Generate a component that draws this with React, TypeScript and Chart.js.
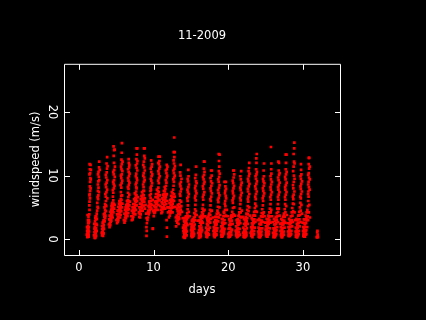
import React, { useEffect, useRef } from "react";
import { Chart, registerables } from "chart.js";

Chart.register(...registerables);

const chartTitle = "11-2009";
const xLabel = "days";
const yLabel = "windspeed (m/s)";
const xTicks = [0, 10, 20, 30];
const yTicks = [0, 10, 20];

const day01 = [[1.12,0.4],[1.15,0.9],[1.1,1.3],[1.2,0.6],[1.18,1.7],[1.25,1.0],[1.22,2.1],[1.3,0.7],[1.28,1.5],[1.3,2.5],[1.35,3.0],[1.28,3.5],[1.38,3.9],[1.33,1.9],[1.42,4.6],[1.37,2.7],[1.4,5.3],[1.42,5.9],[1.48,6.4],[1.44,7.1],[1.5,7.6],[1.47,8.3],[1.5,9.0],[1.53,9.6],[1.5,10.4],[1.47,11.0],[1.55,11.7],[1.43,11.8]];
const day02 = [[2.1,0.2],[2.14,0.7],[2.08,1.1],[2.18,0.4],[2.2,1.4],[2.12,1.9],[2.25,0.9],[2.22,2.3],[2.15,2.8],[2.3,1.7],[2.28,3.1],[2.34,2.4],[2.32,3.6],[2.38,4.0],[2.4,3.2],[2.44,4.5],[2.5,5.1],[2.46,5.7],[2.55,4.9],[2.56,6.3],[2.6,6.9],[2.55,7.6],[2.62,8.1],[2.6,9.1],[2.66,9.8],[2.62,10.6],[2.7,11.3],[2.72,12.2]];
const day03 = [[3.1,0.6],[3.14,1.1],[3.18,0.8],[3.12,1.6],[3.22,1.3],[3.2,2.0],[3.26,0.9],[3.28,1.8],[3.25,2.6],[3.32,2.2],[3.36,3.0],[3.4,3.5],[3.34,3.9],[3.46,4.1],[3.5,4.6],[3.42,5.0],[3.55,3.7],[3.58,5.3],[3.6,4.4],[3.62,6.0],[3.66,5.2],[3.6,6.7],[3.68,7.4],[3.64,8.2],[3.7,8.9],[3.66,9.7],[3.72,10.5],[3.76,11.1],[3.7,11.9],[3.78,12.9],[3.8,6.4]];
const day04 = [[4.1,1.9],[4.14,2.5],[4.2,2.2],[4.18,3.0],[4.26,2.7],[4.24,3.5],[4.3,3.2],[4.34,2.9],[4.32,3.9],[4.38,3.5],[4.42,4.3],[4.46,3.8],[4.4,4.8],[4.5,5.2],[4.54,4.5],[4.48,5.7],[4.58,5.0],[4.6,6.1],[4.55,6.7],[4.66,5.6],[4.6,7.3],[4.68,8.0],[4.65,8.7],[4.7,9.3],[4.66,10.2],[4.72,10.9],[4.7,12.0],[4.66,13.1],[4.72,14.0],[4.64,14.6],[4.78,14.1]];
const day05 = [[5.1,2.5],[5.14,3.1],[5.2,2.7],[5.22,3.5],[5.28,3.0],[5.3,4.0],[5.36,3.4],[5.34,4.6],[5.42,3.9],[5.44,4.9],[5.5,4.3],[5.48,5.3],[5.56,4.8],[5.54,5.8],[5.6,5.2],[5.6,6.3],[5.64,5.7],[5.66,6.8],[5.62,7.4],[5.7,6.2],[5.68,8.1],[5.72,8.8],[5.68,9.6],[5.74,10.2],[5.7,11.0],[5.74,11.8],[5.7,12.5],[5.73,13.6],[5.76,15.1],[5.78,6.9]];
const day06 = [[6.1,2.6],[6.16,3.4],[6.2,2.9],[6.24,3.8],[6.3,3.3],[6.32,4.2],[6.38,3.7],[6.4,4.7],[6.46,4.1],[6.44,5.2],[6.52,4.6],[6.5,5.6],[6.58,5.0],[6.56,6.1],[6.6,5.5],[6.62,6.6],[6.58,7.3],[6.66,6.0],[6.64,7.9],[6.68,8.5],[6.64,9.2],[6.7,9.9],[6.66,10.6],[6.72,11.3],[6.68,12.0],[6.66,12.6],[6.74,7.0]];
const day07 = [[7.08,3.0],[7.14,3.6],[7.2,3.1],[7.22,4.1],[7.28,3.5],[7.3,4.6],[7.36,4.0],[7.36,5.0],[7.42,4.4],[7.44,5.5],[7.5,4.9],[7.5,6.0],[7.56,5.3],[7.56,6.5],[7.62,5.8],[7.62,7.0],[7.66,6.3],[7.66,7.5],[7.7,6.9],[7.68,8.2],[7.72,8.0],[7.7,8.9],[7.74,9.6],[7.68,10.3],[7.72,11.2],[7.78,11.9],[7.7,12.6],[7.76,13.3],[7.72,14.3],[7.82,14.3]];
const day08 = [[8.08,3.5],[8.14,4.0],[8.2,3.4],[8.22,4.6],[8.28,3.9],[8.3,5.1],[8.36,4.4],[8.38,5.5],[8.44,4.9],[8.44,6.0],[8.5,5.4],[8.5,6.5],[8.56,5.9],[8.58,7.0],[8.62,6.3],[8.62,7.6],[8.68,6.9],[8.66,8.2],[8.72,7.6],[8.7,9.0],[8.74,9.7],[8.68,10.4],[8.74,11.3],[8.7,12.2],[8.76,13.1],[8.72,14.3],[8.8,14.3],[8.84,4.8]];
const day09 = [[9.05,0.5],[9.08,1.3],[9.04,1.9],[9.1,2.5],[9.06,3.3],[9.02,4.0],[9.25,3.4],[9.3,4.5],[9.36,3.9],[9.4,5.0],[9.44,4.2],[9.46,5.5],[9.52,4.6],[9.52,6.0],[9.58,5.1],[9.6,6.5],[9.64,5.5],[9.64,7.1],[9.7,6.0],[9.66,7.8],[9.72,8.4],[9.7,9.2],[9.74,9.9],[9.7,10.6],[9.74,11.4],[9.68,12.4],[9.9,1.6],[9.9,1.7]];
const day10 = [[10.02,3.6],[10.08,4.1],[10.14,4.6],[10.2,4.2],[10.22,5.1],[10.28,4.6],[10.3,5.6],[10.36,5.0],[10.38,6.0],[10.44,5.5],[10.46,6.6],[10.5,5.9],[10.52,7.1],[10.58,6.4],[10.58,7.6],[10.64,6.9],[10.64,8.1],[10.7,7.4],[10.7,8.8],[10.72,9.6],[10.7,10.3],[10.76,11.1],[10.72,11.8],[10.78,12.3],[10.66,13.0],[10.82,13.0],[10.8,6.2]];
const day11 = [[11.05,4.1],[11.1,5.0],[11.16,4.3],[11.2,5.6],[11.26,4.7],[11.3,6.2],[11.36,5.1],[11.36,6.7],[11.44,5.4],[11.44,7.1],[11.5,5.9],[11.52,7.5],[11.58,6.3],[11.58,7.9],[11.64,6.7],[11.66,8.4],[11.7,7.0],[11.72,8.9],[11.76,9.7],[11.72,10.4],[11.78,11.0],[11.76,11.7],[11.78,0.4],[11.78,1.8],[11.74,3.0],[11.82,6.0]];
const day12 = [[12.06,3.4],[12.1,4.4],[12.16,3.7],[12.2,4.9],[12.26,4.1],[12.28,5.4],[12.34,4.5],[12.36,5.9],[12.42,4.9],[12.42,6.3],[12.48,5.2],[12.5,6.7],[12.56,5.6],[12.56,7.2],[12.62,6.1],[12.62,7.8],[12.68,6.6],[12.68,8.4],[12.74,7.1],[12.72,9.0],[12.76,9.7],[12.72,10.4],[12.78,11.1],[12.74,11.9],[12.78,12.9],[12.7,13.7],[12.82,13.7],[12.77,16.0]];
const day13 = [[13.02,2.0],[13.06,2.9],[13.1,3.7],[13.15,2.6],[13.18,3.3],[13.22,4.4],[13.28,3.0],[13.3,4.0],[13.34,5.0],[13.38,3.5],[13.42,4.5],[13.46,5.5],[13.5,4.1],[13.52,6.1],[13.56,5.0],[13.58,6.8],[13.62,7.5],[13.6,8.3],[13.66,9.0],[13.6,10.0],[13.62,11.7],[13.7,5.9]];
const day14 = [[14.02,0.3],[14.06,1.0],[14.1,1.6],[14.05,2.2],[14.12,0.6],[14.14,2.7],[14.18,1.2],[14.2,3.3],[14.24,0.3],[14.25,2.0],[14.3,0.9],[14.3,2.9],[14.36,1.5],[14.36,3.6],[14.42,0.6],[14.42,2.4],[14.48,3.1],[14.5,4.1],[14.54,3.7],[14.56,4.7],[14.6,5.3],[14.56,6.0],[14.64,6.7],[14.6,7.4],[14.66,8.2],[14.62,9.1],[14.68,9.9],[14.65,10.9]];
const day15 = [[15.06,0.5],[15.1,1.1],[15.08,1.8],[15.14,0.3],[15.16,2.4],[15.18,0.9],[15.22,1.5],[15.24,3.1],[15.28,0.5],[15.3,2.0],[15.32,1.1],[15.36,2.7],[15.4,3.4],[15.42,0.8],[15.46,4.1],[15.5,2.3],[15.52,3.0],[15.56,4.7],[15.6,5.4],[15.58,3.9],[15.64,6.1],[15.6,6.8],[15.66,7.6],[15.62,8.4],[15.7,9.1],[15.66,10.1],[15.7,11.4]];
const day16 = [[16.06,0.2],[16.1,0.8],[16.08,1.4],[16.14,2.0],[16.18,0.4],[16.2,1.1],[16.22,2.6],[16.26,1.7],[16.3,0.7],[16.32,3.2],[16.36,2.2],[16.4,1.1],[16.42,3.7],[16.46,2.8],[16.5,4.2],[16.54,3.3],[16.56,4.8],[16.62,3.9],[16.62,5.4],[16.68,4.4],[16.66,6.2],[16.7,7.0],[16.66,7.9],[16.74,8.7],[16.7,9.4],[16.76,10.1],[16.74,11.1],[16.8,12.2],[16.76,12.2]];
const day17 = [[17.08,0.4],[17.1,1.1],[17.06,1.8],[17.14,2.4],[17.2,0.6],[17.22,1.5],[17.2,3.0],[17.28,0.9],[17.3,2.2],[17.34,3.5],[17.38,1.4],[17.42,2.8],[17.46,4.0],[17.5,3.2],[17.56,4.6],[17.6,3.8],[17.62,5.3],[17.68,4.4],[17.66,6.0],[17.72,6.7],[17.68,7.6],[17.74,8.4],[17.7,9.1],[17.78,10.0],[17.8,10.8],[17.7,10.8]];
const day18 = [[18.1,0.5],[18.12,1.2],[18.08,1.9],[18.18,0.3],[18.2,2.5],[18.24,1.0],[18.26,3.0],[18.3,1.7],[18.34,0.6],[18.36,3.5],[18.4,2.2],[18.44,1.3],[18.46,4.0],[18.5,2.9],[18.56,4.5],[18.6,3.5],[18.62,5.1],[18.68,4.1],[18.68,5.8],[18.72,6.5],[18.7,7.3],[18.76,8.1],[18.72,9.0],[18.78,9.8],[18.74,10.7],[18.8,11.4],[18.76,12.3],[18.72,13.4],[18.84,13.3]];
const day19 = [[19.06,0.7],[19.1,1.3],[19.06,2.0],[19.16,0.4],[19.18,2.6],[19.22,1.1],[19.26,3.1],[19.3,1.8],[19.32,0.7],[19.36,3.6],[19.42,2.4],[19.44,1.3],[19.46,4.1],[19.5,3.0],[19.56,4.6],[19.58,3.6],[19.62,5.2],[19.6,6.0],[19.66,6.8],[19.6,7.6],[19.5,9.0],[19.62,8.3]];
const day20 = [[20.06,0.3],[20.08,1.0],[20.04,1.6],[20.14,0.5],[20.14,2.2],[20.2,1.1],[20.22,2.8],[20.26,1.7],[20.3,0.6],[20.34,3.3],[20.38,2.3],[20.42,1.2],[20.44,3.8],[20.48,2.9],[20.54,4.3],[20.56,3.5],[20.62,4.9],[20.62,5.7],[20.68,6.4],[20.64,7.2],[20.7,8.0],[20.66,8.8],[20.72,9.7],[20.68,10.8],[20.76,10.8]];
const day21 = [[21.06,0.6],[21.1,1.3],[21.06,2.0],[21.16,0.3],[21.18,2.6],[21.22,1.0],[21.26,3.1],[21.3,1.7],[21.34,0.6],[21.38,3.6],[21.42,2.3],[21.44,1.1],[21.48,4.2],[21.5,2.9],[21.54,0.7],[21.56,4.8],[21.58,3.5],[21.62,5.5],[21.66,4.2],[21.66,6.1],[21.7,6.9],[21.66,7.7],[21.72,8.5],[21.68,9.4],[21.74,10.7]];
const day22 = [[22.06,0.4],[22.08,1.1],[22.04,1.8],[22.14,0.3],[22.14,2.4],[22.2,0.9],[22.22,3.0],[22.26,1.5],[22.3,0.4],[22.34,3.5],[22.36,2.1],[22.42,1.0],[22.44,4.0],[22.48,2.8],[22.54,4.6],[22.56,3.3],[22.62,5.2],[22.62,3.9],[22.68,5.9],[22.7,6.7],[22.66,7.5],[22.74,8.3],[22.7,9.1],[22.76,9.9],[22.72,10.7],[22.78,11.2],[22.82,12.0]];
const day23 = [[23.08,0.5],[23.1,1.2],[23.06,1.9],[23.16,0.6],[23.18,2.5],[23.22,1.3],[23.26,3.1],[23.3,1.9],[23.34,0.7],[23.38,3.7],[23.42,2.5],[23.46,1.3],[23.48,4.3],[23.5,3.1],[23.56,4.9],[23.6,3.7],[23.62,5.6],[23.66,4.4],[23.68,6.3],[23.72,7.1],[23.68,7.9],[23.76,8.7],[23.72,9.5],[23.78,10.2],[23.74,11.0],[23.78,12.0],[23.76,12.7],[23.82,13.4]];
const day24 = [[24.08,0.4],[24.1,1.1],[24.06,1.8],[24.16,0.3],[24.18,2.4],[24.22,1.0],[24.26,3.0],[24.3,1.7],[24.34,0.5],[24.38,3.6],[24.42,2.3],[24.46,1.2],[24.48,4.1],[24.5,2.9],[24.56,4.7],[24.6,3.5],[24.64,5.3],[24.66,4.0],[24.68,6.0],[24.72,6.8],[24.7,7.6],[24.76,8.4],[24.72,9.1],[24.78,9.9],[24.74,10.8],[24.8,11.9]];
const day25 = [[25.08,0.6],[25.1,1.3],[25.06,2.0],[25.16,0.4],[25.18,2.6],[25.22,1.1],[25.26,3.1],[25.3,1.8],[25.34,0.7],[25.38,3.7],[25.42,2.4],[25.46,1.2],[25.5,4.2],[25.52,3.0],[25.58,4.8],[25.6,3.6],[25.66,5.5],[25.68,4.2],[25.7,6.2],[25.74,7.0],[25.7,7.8],[25.76,8.6],[25.72,9.4],[25.78,10.3],[25.76,11.0],[25.72,14.5],[25.78,11.9]];
const day26 = [[26.06,0.3],[26.1,1.0],[26.06,1.7],[26.16,0.5],[26.18,2.3],[26.22,1.2],[26.26,2.9],[26.3,1.8],[26.34,0.6],[26.38,3.5],[26.42,2.5],[26.46,1.4],[26.5,4.1],[26.52,3.0],[26.58,4.8],[26.6,3.6],[26.66,5.5],[26.68,4.3],[26.72,6.2],[26.76,7.0],[26.72,7.8],[26.78,8.5],[26.74,9.3],[26.8,10.1],[26.76,10.8],[26.8,12.0],[26.72,12.2]];
const day27 = [[27.06,0.6],[27.08,1.2],[27.04,1.9],[27.14,0.3],[27.16,2.5],[27.2,1.0],[27.24,3.0],[27.28,1.7],[27.32,0.6],[27.36,3.5],[27.4,2.3],[27.44,1.2],[27.46,4.0],[27.5,2.9],[27.56,4.7],[27.58,3.5],[27.62,5.5],[27.66,4.2],[27.66,6.2],[27.7,7.0],[27.66,7.8],[27.72,8.5],[27.68,9.4],[27.74,10.2],[27.7,11.0],[27.74,12.0],[27.7,13.3],[27.8,13.3]];
const day28 = [[28.08,0.5],[28.1,1.2],[28.06,1.9],[28.16,0.5],[28.18,2.5],[28.22,1.3],[28.26,3.0],[28.3,1.9],[28.34,0.7],[28.38,3.6],[28.42,2.5],[28.46,1.3],[28.5,4.2],[28.52,3.0],[28.58,4.9],[28.6,3.7],[28.66,5.6],[28.7,4.4],[28.72,6.3],[28.76,7.0],[28.72,8.0],[28.78,9.0],[28.8,10.0],[28.76,11.4],[28.82,12.2],[28.76,13.4],[28.84,14.3],[28.85,15.2]];
const day29 = [[29.06,0.4],[29.1,1.1],[29.06,1.8],[29.16,0.3],[29.18,2.4],[29.22,1.1],[29.26,3.0],[29.3,1.8],[29.34,0.6],[29.38,3.7],[29.42,2.5],[29.46,1.3],[29.5,4.3],[29.54,3.1],[29.6,5.0],[29.62,3.8],[29.66,5.7],[29.7,4.5],[29.72,6.4],[29.76,7.1],[29.72,7.9],[29.78,8.7],[29.74,9.5],[29.8,10.2],[29.76,10.9],[29.74,11.8]];
const day30 = [[30.06,0.5],[30.1,1.2],[30.06,1.9],[30.16,0.4],[30.18,2.5],[30.22,1.2],[30.26,3.1],[30.3,1.9],[30.34,0.7],[30.38,3.7],[30.42,2.5],[30.46,1.4],[30.5,4.2],[30.54,3.0],[30.6,4.6],[30.64,3.6],[30.7,5.2],[30.72,6.0],[30.76,6.7],[30.74,7.5],[30.8,8.2],[30.76,9.0],[30.82,9.7],[30.78,10.4],[30.84,11.1],[30.78,11.8],[30.86,12.8],[30.78,12.8]];
const day31 = [[31.9,0.3],[31.98,0.7],[31.92,1.1],[31.95,1.3],[32.02,0.3],[31.86,0.3]];

const bandEarly = [[1.05,0.7],[1.3,0.4],[1.36,1.2],[1.22,3.0],[1.16,3.8],[2.02,0.6],[2.3,0.5],[2.38,1.3],[2.42,2.2],[2.06,2.4],[2.24,3.6],[3.05,1.0],[3.3,0.9],[3.35,1.6],[3.18,2.6],[3.44,2.8],[3.52,3.3],[3.5,5.5],[4.0,2.3],[4.06,3.1],[4.12,3.7],[4.22,4.3],[4.32,4.6],[4.42,5.5],[4.36,5.2],[4.52,3.4],[4.62,4.2],[4.72,4.8],[4.78,5.4],[5.02,3.0],[5.1,3.9],[5.18,4.5],[5.28,5.1],[5.36,5.6],[5.42,6.0],[5.5,3.4],[5.58,3.8],[5.68,4.4],[5.76,5.0],[5.82,5.6],[6.02,3.0],[6.1,4.0],[6.18,4.6],[6.26,5.0],[6.34,5.4],[6.42,6.0],[6.5,3.6],[6.6,4.1],[6.68,4.7],[6.76,5.3],[6.82,5.9],[7.02,3.6],[7.1,4.5],[7.18,5.0],[7.28,5.5],[7.4,6.3],[7.48,7.2],[7.56,3.9],[7.62,4.6],[7.72,5.3],[7.8,6.0],[7.88,6.6],[8.02,4.2],[8.1,5.0],[8.2,5.6],[8.28,6.3],[8.38,6.8],[8.46,7.4],[8.54,4.5],[8.66,5.2],[8.76,5.9],[8.84,6.4],[8.92,5.4],[9.18,3.0],[9.24,4.2],[9.32,5.2],[9.4,5.9],[9.5,6.9],[9.58,7.6],[9.72,4.8],[9.8,5.4],[9.88,6.2],[9.96,4.4],[10.1,5.2],[10.18,5.9],[10.26,6.6],[10.34,7.1],[10.44,7.8],[10.54,4.6],[10.64,5.4],[10.72,6.1],[10.82,6.9],[10.9,5.2],[10.98,4.6],[11.08,5.8],[11.18,6.4],[11.28,7.0],[11.38,7.6],[11.48,8.2],[11.56,4.8],[11.68,5.5],[11.78,7.1],[11.86,5.0],[11.94,4.2],[12.04,5.0],[12.14,5.7],[12.24,6.2],[12.34,6.8],[12.44,7.4],[12.54,4.2],[12.64,5.0],[12.74,6.0],[12.84,6.7],[12.92,5.1],[12.98,3.4],[13.12,4.8],[13.24,5.4],[13.34,2.4],[13.44,3.2],[13.54,3.9],[13.64,4.6],[13.72,5.2],[13.8,4.3],[13.9,3.3],[13.94,1.8]];

const bandLate = [[14.0,1.3],[14.08,2.9],[14.16,0.2],[14.22,1.5],[14.3,3.5],[14.38,2.6],[14.46,1.2],[14.54,2.2],[14.62,3.4],[14.72,4.3],[14.84,3.6],[14.94,2.4],[15.02,1.4],[15.12,2.9],[15.2,0.4],[15.26,1.4],[15.34,0.5],[15.38,3.0],[15.46,1.6],[15.54,3.5],[15.66,4.4],[15.76,3.8],[15.9,2.9],[16.0,1.0],[16.12,2.9],[16.2,3.5],[16.26,0.3],[16.34,1.4],[16.42,2.6],[16.5,1.4],[16.6,2.6],[16.72,3.6],[16.82,4.6],[16.92,3.6],[17.0,1.0],[17.12,3.3],[17.18,0.3],[17.26,2.8],[17.34,0.7],[17.4,3.8],[17.5,1.8],[17.58,2.6],[17.7,3.2],[17.8,4.5],[17.92,3.4],[18.02,1.3],[18.14,2.7],[18.28,3.5],[18.36,0.8],[18.44,2.4],[18.54,1.7],[18.64,2.8],[18.74,3.4],[18.82,5.0],[18.92,3.8],[19.0,1.2],[19.14,3.2],[19.24,0.5],[19.32,2.6],[19.4,4.3],[19.5,1.6],[19.62,2.5],[19.72,3.7],[19.82,4.6],[19.92,3.6],[20.0,0.8],[20.12,3.1],[20.2,0.4],[20.3,2.4],[20.38,3.6],[20.5,1.5],[20.58,2.4],[20.7,3.9],[20.8,5.0],[20.9,3.7],[21.0,1.3],[21.12,3.0],[21.24,0.4],[21.32,2.6],[21.42,3.8],[21.52,1.6],[21.62,2.5],[21.72,3.4],[21.82,4.5],[21.92,3.5],[22.0,1.0],[22.12,3.2],[22.24,0.3],[22.32,2.6],[22.42,3.1],[22.5,1.7],[22.6,2.4],[22.72,4.4],[22.82,5.0],[22.92,3.7],[23.0,1.0],[23.14,3.3],[23.24,0.3],[23.34,2.8],[23.44,3.8],[23.54,1.8],[23.64,2.7],[23.74,5.2],[23.84,4.3],[23.94,3.0],[24.02,1.2],[24.14,3.2],[24.26,0.3],[24.36,2.6],[24.44,3.6],[24.54,1.7],[24.66,2.7],[24.76,4.2],[24.86,3.6],[24.96,2.6],[25.02,1.5],[25.14,3.2],[25.26,0.4],[25.36,2.7],[25.46,3.4],[25.56,1.7],[25.66,2.6],[25.76,4.6],[25.86,3.6],[25.96,2.7],[26.0,1.0],[26.14,3.2],[26.26,0.3],[26.36,2.4],[26.46,3.4],[26.56,1.9],[26.66,2.7],[26.78,4.8],[26.88,3.7],[26.96,2.4],[27.0,1.3],[27.12,3.2],[27.24,0.3],[27.34,2.6],[27.44,3.6],[27.54,1.8],[27.64,2.6],[27.76,5.2],[27.86,3.8],[27.96,2.5],[28.02,1.2],[28.14,3.2],[28.26,0.5],[28.34,2.7],[28.44,3.6],[28.56,2.0],[28.66,2.7],[28.78,5.5],[28.88,4.2],[28.96,3.0],[29.02,1.2],[29.14,3.2],[29.26,0.3],[29.36,2.6],[29.46,3.7],[29.56,2.0],[29.68,2.7],[29.8,5.4],[29.88,4.0],[29.96,2.6],[30.02,1.3],[30.14,3.1],[30.28,0.4],[30.38,2.6],[30.48,3.3],[30.58,1.9],[30.7,3.0],[30.8,4.2],[30.86,5.4],[30.94,3.4]];

const upperEdges = [[1.42,6.9],[1.56,8.0],[1.58,9.4],[1.42,10.2],[1.6,10.9],[2.5,6.6],[2.68,7.4],[2.54,8.6],[2.72,9.3],[2.56,10.2],[2.78,10.9],[3.54,7.1],[3.78,7.8],[3.58,8.6],[3.8,9.3],[3.6,10.1],[3.84,11.5],[4.54,7.7],[4.76,8.4],[4.58,9.0],[4.8,9.8],[4.6,10.6],[4.82,11.4],[5.58,8.5],[5.8,9.2],[5.62,10.0],[5.82,10.7],[5.64,11.4],[5.84,12.2],[6.56,8.2],[6.76,8.9],[6.58,9.6],[6.78,10.3],[6.58,11.0],[6.76,11.7],[7.6,8.6],[7.8,9.3],[7.62,9.9],[7.82,10.8],[7.62,11.6],[7.84,12.3],[8.6,8.6],[8.8,9.3],[8.62,10.0],[8.82,10.8],[8.62,11.7],[8.82,12.7],[9.6,8.1],[9.8,8.8],[9.62,9.5],[9.82,10.2],[9.62,11.1],[9.8,11.8],[10.62,9.2],[10.82,9.9],[10.64,10.7],[10.84,11.4],[10.64,12.0],[11.64,9.3],[11.82,10.0],[11.64,10.8],[11.86,11.4],[12.64,9.4],[12.84,10.0],[12.66,10.8],[12.86,11.5],[12.68,12.4],[13.52,7.1],[13.72,7.9],[13.54,8.7],[13.74,9.5],[13.56,10.5],[14.52,6.4],[14.72,7.1],[14.54,7.8],[14.74,8.6],[14.56,9.5],[15.54,6.5],[15.74,7.2],[15.56,8.0],[15.76,8.8],[15.58,9.6],[16.6,6.6],[16.8,7.4],[16.6,8.3],[16.82,9.0],[16.62,9.8],[16.82,10.6],[17.6,6.3],[17.8,7.2],[17.62,8.0],[17.84,8.8],[17.62,9.6],[18.62,6.2],[18.82,6.9],[18.64,7.7],[18.84,8.5],[18.66,9.4],[18.86,10.3],[19.54,5.6],[19.72,6.4],[19.56,7.2],[19.7,7.9],[19.68,9.0],[20.58,6.1],[20.76,6.8],[20.6,7.6],[20.78,8.4],[20.6,9.2],[20.8,10.2],[21.6,6.5],[21.8,7.3],[21.62,8.1],[21.8,8.9],[21.62,9.9],[22.62,6.3],[22.82,7.1],[22.62,7.9],[22.84,8.7],[22.64,9.5],[22.84,10.3],[23.62,6.7],[23.82,7.5],[23.62,8.3],[23.84,9.1],[23.66,9.9],[23.84,10.6],[24.62,6.4],[24.82,7.2],[24.64,8.0],[24.84,8.8],[24.66,9.5],[25.64,6.6],[25.84,7.4],[25.66,8.2],[25.84,9.0],[25.66,9.9],[26.66,6.6],[26.86,7.4],[26.68,8.2],[26.88,8.9],[26.68,9.7],[26.88,10.4],[27.6,6.6],[27.8,7.4],[27.62,8.2],[27.82,8.9],[27.62,9.8],[27.82,10.6],[28.66,6.7],[28.86,7.5],[28.68,8.5],[28.88,9.5],[28.7,10.7],[28.88,11.9],[29.66,6.7],[29.86,7.5],[29.68,8.3],[29.88,9.1],[29.68,9.9],[30.7,7.1],[30.9,7.8],[30.72,8.6],[30.92,9.4],[30.72,10.1],[30.92,11.4]];

const lowColumns = [[1.08,1.9],[1.24,2.6],[1.14,0.3],[2.08,1.6],[2.2,0.2],[2.28,1.2],[2.2,3.3],[3.1,2.1],[3.24,0.5],[3.3,2.9],[14.08,0.4],[14.16,1.9],[14.24,2.6],[14.32,1.9],[15.08,0.8],[15.12,2.1],[15.2,1.9],[15.3,0.9],[15.4,2.0],[16.08,0.6],[16.16,1.5],[16.24,0.9],[16.34,0.5],[16.42,1.8],[17.06,0.8],[17.14,1.5],[17.24,2.2],[17.32,1.5],[17.42,0.7],[18.08,0.8],[18.16,1.6],[18.24,2.2],[18.32,2.6],[18.42,0.7],[19.1,0.4],[19.16,1.6],[19.24,2.2],[19.34,1.2],[19.42,0.9],[20.08,0.4],[20.16,1.7],[20.24,2.2],[20.32,1.1],[20.42,0.7],[21.08,0.9],[21.16,1.6],[21.26,2.2],[21.34,1.2],[21.44,0.6],[22.08,0.7],[22.16,1.5],[22.26,2.3],[22.34,1.2],[22.44,0.6],[23.08,0.8],[23.16,1.6],[23.26,2.2],[23.34,1.2],[23.44,0.8],[24.08,0.8],[24.16,1.5],[24.26,2.3],[24.34,1.1],[24.44,0.7],[25.08,0.9],[25.16,1.6],[25.26,2.2],[25.34,1.2],[25.44,0.8],[26.08,0.7],[26.16,1.5],[26.26,2.3],[26.34,1.2],[26.44,0.8],[27.08,0.8],[27.16,1.5],[27.26,2.2],[27.34,1.1],[27.44,0.7],[28.08,0.8],[28.16,1.5],[28.26,2.3],[28.34,1.2],[28.44,0.8],[29.08,0.7],[29.16,1.5],[29.26,2.2],[29.34,1.2],[29.44,0.8],[30.08,0.8],[30.16,1.6],[30.26,2.3],[30.36,1.2],[30.46,0.8]];

const days = [day01, day02, day03, day04, day05, day06, day07, day08, day09, day10, day11, day12, day13, day14, day15, day16, day17, day18, day19, day20, day21, day22, day23, day24, day25, day26, day27, day28, day29, day30, day31, bandEarly, bandLate, upperEdges, lowColumns];

const fontSpec = { family: "'DejaVu Sans'", size: 11.5, weight: "normal" as const };

const frame = {
  id: "frame",
  afterDraw(chart: any) {
    const { ctx, chartArea: a, scales } = chart;
    ctx.save();
    ctx.strokeStyle = "#fff";
    ctx.lineWidth = 1;
    ctx.beginPath();
    ctx.rect(a.left + 0.5, a.top + 0.5, a.right - a.left, a.bottom - a.top);
    xTicks.forEach((v) => {
      const p = Math.round(scales.x.getPixelForValue(v)) + 0.5;
      ctx.moveTo(p, a.bottom + 0.5);
      ctx.lineTo(p, a.bottom - 5);
      ctx.moveTo(p, a.top + 0.5);
      ctx.lineTo(p, a.top + 6);
    });
    yTicks.forEach((v) => {
      const p = Math.round(scales.y.getPixelForValue(v)) + 0.5;
      ctx.moveTo(a.left + 0.5, p);
      ctx.lineTo(a.left + 6, p);
      ctx.moveTo(a.right + 0.5, p);
      ctx.lineTo(a.right - 5, p);
    });
    ctx.stroke();
    ctx.restore();
  },
};

export default function App() {
  const ref = useRef<HTMLCanvasElement>(null);
  useEffect(() => {
    document.body.style.margin = "0";
    document.body.style.background = "#000";
    const chart = new Chart(ref.current!, {
      type: "scatter",
      data: {
        datasets: [
          {
            label: "windspeed",
            data: days.flat().map(([x, y]) => ({ x, y })),
            backgroundColor: "#ff0000",
            borderWidth: 0,
            pointStyle: "rect",
            pointRadius: 1.9,
          },
        ],
      },
      options: {
        animation: false,
        responsive: false,
        layout: { padding: { left: 0, right: 86, top: 0, bottom: 0 } },
        plugins: {
          legend: { display: false },
          tooltip: { enabled: false },
          title: {
            display: true,
            text: chartTitle,
            color: "#fff",
            font: fontSpec,
            fullSize: false,
            padding: { top: 29, bottom: 21 },
          },
        },
        scales: {
          x: {
            type: "linear",
            min: -2,
            max: 34.97,
            afterFit: (s: any) => { s.height = 65; },
            grid: { display: false, drawTicks: false },
            border: { display: false },
            ticks: { stepSize: 10, includeBounds: false, color: "#fff", font: fontSpec, padding: 6, maxRotation: 0 },
            title: { display: true, text: xLabel, color: "#fff", font: fontSpec, padding: { top: 0, bottom: 23 } },
          },
          y: {
            type: "linear",
            min: -2.5,
            max: 27.6,
            afterFit: (s: any) => { s.width = 64; },
            grid: { display: false, drawTicks: false },
            border: { display: false },
            ticks: { stepSize: 10, includeBounds: false, color: "#fff", font: fontSpec, padding: 5, minRotation: -90, crossAlign: "center" },
            title: { display: true, text: yLabel, color: "#fff", font: fontSpec, padding: { top: 29, bottom: 0 } },
          },
        },
      },
      plugins: [frame],
    } as any);
    return () => chart.destroy();
  }, []);
  return <canvas ref={ref} width={426} height={320} style={{ display: "block", background: "#000" }} />;
}
